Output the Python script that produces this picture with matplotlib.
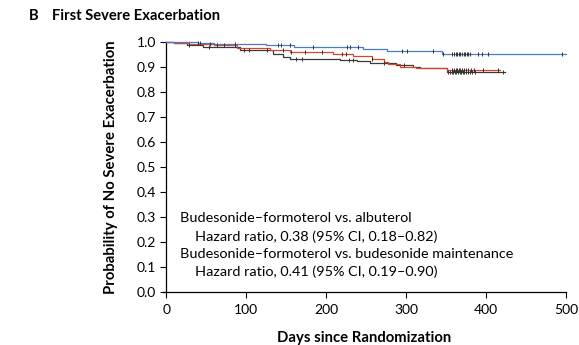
import numpy as np
import matplotlib
matplotlib.use("Agg")
import matplotlib.pyplot as plt

# odhad z obrázku - Kaplan-Meier křivky
dny_modra = [0, 15, 40, 60, 125, 160, 246, 276, 345, 500]
preziti_modra = [1.0, 0.997, 0.993, 0.99, 0.985, 0.977, 0.971, 0.964, 0.951, 0.951]

dny_cervena = [0, 10, 29, 60, 88, 130, 155, 209, 234, 257, 272, 277, 293, 313, 351, 417]
preziti_cervena = [1.0, 0.996, 0.99, 0.985, 0.976, 0.967, 0.96, 0.951, 0.944, 0.931, 0.92, 0.91, 0.9, 0.893, 0.887, 0.887]

dny_cerna = [0, 10, 26, 46, 92, 134, 146, 155, 217, 238, 255, 288, 309, 317, 351, 424]
preziti_cerna = [1.0, 0.995, 0.987, 0.978, 0.967, 0.95, 0.94, 0.931, 0.927, 0.921, 0.915, 0.907, 0.9, 0.893, 0.877, 0.877]

# cenzurovaná pozorování
cenzura_modra = [40, 42, 86, 140, 143, 155, 183, 226, 230, 240, 295, 301, 334, 346,
                 357, 360, 362, 364, 366, 368, 370, 372, 374, 376, 378, 380, 390, 395, 403, 495]
cenzura_cervena = [55, 64, 72, 86, 146, 156, 173, 195, 220, 225, 258,
                   357, 360, 362, 364, 366, 368, 370, 372, 375, 378, 381, 385, 396, 415]
cenzura_cerna = [28, 53, 97, 103, 126, 162, 170, 228, 233, 272, 297,
                 352, 355, 357, 359, 361, 363, 365, 367, 369, 371, 373, 375, 377, 380, 383, 386, 421]

popisky = ["Budesonide\u2013formoterol vs. albuterol",
           "Hazard ratio, 0.38 (95% CI, 0.18\u20130.82)",
           "Budesonide\u2013formoterol vs. budesonide maintenance",
           "Hazard ratio, 0.41 (95% CI, 0.19\u20130.90)"]
odsazeni = [17, 36, 17, 36]
radky_y = [0.277, 0.204, 0.134, 0.063]

plt.rcParams["font.family"] = ["Lato", "DejaVu Sans"]

fig = plt.figure(figsize=(5.79, 3.45), dpi=100)
ax = fig.add_axes([163 / 579, 1 - 291.7 / 345, (566 - 163) / 579, 250 / 345])

def krivka(dny, preziti, cenzura, barva):
    ax.step(dny, preziti, where="post", color=barva, lw=0.9, clip_on=False, zorder=3)
    # hodnota schodu v čase cenzury
    idx = np.searchsorted(dny, cenzura, side="right") - 1
    hodnoty = np.array(preziti)[idx]
    ax.plot(cenzura, hodnoty, linestyle="none", marker="|", ms=2.5, mew=0.7,
            color="#333333", clip_on=False, zorder=4)

krivka(dny_cerna, preziti_cerna, cenzura_cerna, "#3a3a3a")
krivka(dny_cervena, preziti_cervena, cenzura_cervena, "#d9472b")
krivka(dny_modra, preziti_modra, cenzura_modra, "#4a7cc7")

ax.set_xlim(-4, 500)
ax.set_ylim(0, 1.0)
ax.spines["left"].set_position(("data", 0))
ax.spines["top"].set_visible(False)
ax.spines["right"].set_visible(False)
for s in ["left", "bottom"]:
    ax.spines[s].set_linewidth(0.9)
ax.set_xticks([0, 100, 200, 300, 400, 500])
ax.set_yticks(np.arange(0, 1.01, 0.1))
ax.set_yticklabels([f"{v:.1f}" for v in np.arange(0, 1.01, 0.1)])
ax.tick_params(direction="out", length=4.5, width=0.8, labelsize=10, pad=3)
ax.tick_params(axis="x", pad=4)

ax.set_xlabel("Days since Randomization", fontsize=10.7, fontweight="bold", labelpad=11)
ax.set_ylabel("Probability of No Severe Exacerbation", fontsize=10.7, fontweight="bold", labelpad=13)

for t, x, y in zip(popisky, odsazeni, radky_y):
    ax.text(x, y, t, fontsize=10.4, va="baseline", ha="left")

fig.text(29 / 579, 1 - 16 / 345, "B", fontsize=10.6, fontweight="bold", va="center")
fig.text(52 / 579, 1 - 16 / 345, "First Severe Exacerbation", fontsize=10.6, fontweight="bold", va="center")

plt.savefig("out.png", dpi=100)
plt.close()
